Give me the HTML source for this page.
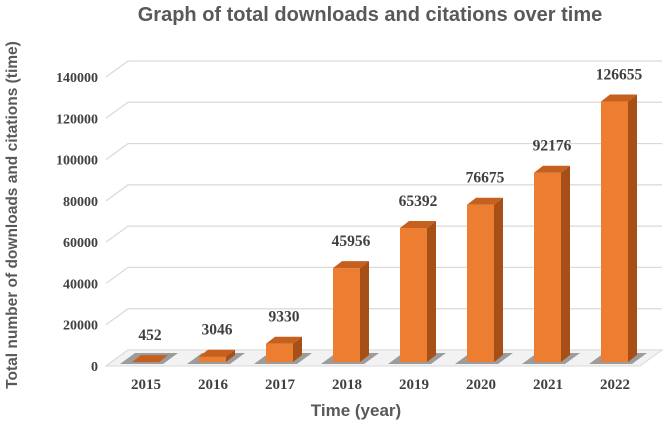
<!DOCTYPE html>
<html><head><meta charset="utf-8"><style>
body{margin:0;background:#fff}
svg text{font-family:"Liberation Sans",sans-serif}
.num{font-family:"Liberation Serif",serif;font-weight:bold;fill:#404040;font-size:14px}
</style></head><body>
<svg id="c" width="667" height="424" viewBox="0 0 667 424">
<text x="370" y="21" text-anchor="middle" font-size="20" font-weight="bold" fill="#595959">Graph of total downloads and citations over time</text>
<text transform="translate(17,215) rotate(-90)" text-anchor="middle" font-size="15.5" font-weight="bold" fill="#595959">Total number of downloads and citations (time)</text>
<text x="356" y="416" text-anchor="middle" font-size="17" font-weight="bold" fill="#595959">Time (year)</text>
<g id="grid"></g><g id="floor"></g><g id="bars"></g>
</svg>
<script>
const categories=["2015","2016","2017","2018","2019","2020","2021","2022"];
const values=[452,3046,9330,45956,65392,76675,92176,126655];
const ticks=[0,20000,40000,60000,80000,100000,120000,140000];
const NS="http://www.w3.org/2000/svg";
const y0=366, k=289/140000, DX=22, DY=16;
function yf(v){return y0-v*k;}
function xc(i){return 146+i*67;}
function mk(t,a,p){const e=document.createElementNS(NS,t);for(const n in a)e.setAttribute(n,a[n]);p.appendChild(e);return e;}
const grid=document.getElementById('grid'),floor=document.getElementById('floor'),bars=document.getElementById('bars');
ticks.forEach(v=>{
  const y=yf(v);
  const l=mk('polyline',{points:`${106},${y} ${106+DX},${y-DY} 662,${y-DY}`,fill:'none',stroke:'#d9d9d9','stroke-width':1.2},grid);
  
  
  const t=mk('text',{x:98,y:y+5,'text-anchor':'end',class:'num'},grid);
  t.textContent=v;
  
  
});
const fl=mk('polygon',{points:`106,${y0} ${106+DX},${y0-DY} 662,${y0-DY} 640,${y0}`,fill:'#f2f2f2',stroke:'#d9d9d9'},floor);


categories.forEach((c,i)=>{
  const x=xc(i)-14,w=27,top=yf(values[i])-3,bot=y0-4,d=9,dy=7;
  const sh=mk('polygon',{points:`${x-12},${bot+2} ${x+w+4},${bot+2} ${x+w+d+10},${bot-dy-2} ${x+d-6},${bot-dy-2}`,fill:'#555',opacity:0.55},bars);
  
  
  const g=mk('g',{},bars);
  
  
  mk('rect',{x:x,y:top,width:w,height:bot-top,fill:'#ed7d31'},g);
  mk('polygon',{points:`${x+w},${top} ${x+w+d},${top-dy} ${x+w+d},${bot-dy} ${x+w},${bot}`,fill:'#a64f17'},g);
  mk('polygon',{points:`${x},${top} ${x+d},${top-dy} ${x+w+d},${top-dy} ${x+w},${top}`,fill:'#c5601f'},g);
  const vl=mk('text',{x:xc(i)+4,y:top-22,'text-anchor':'middle',class:'num',style:'font-size:15.5px'},bars);
  vl.textContent=values[i];
  
  
  const xl=mk('text',{x:xc(i),y:389,'text-anchor':'middle',class:'num',style:'font-size:15px'},bars);
  xl.textContent=c;
  
  
});
</script>
</body></html>
